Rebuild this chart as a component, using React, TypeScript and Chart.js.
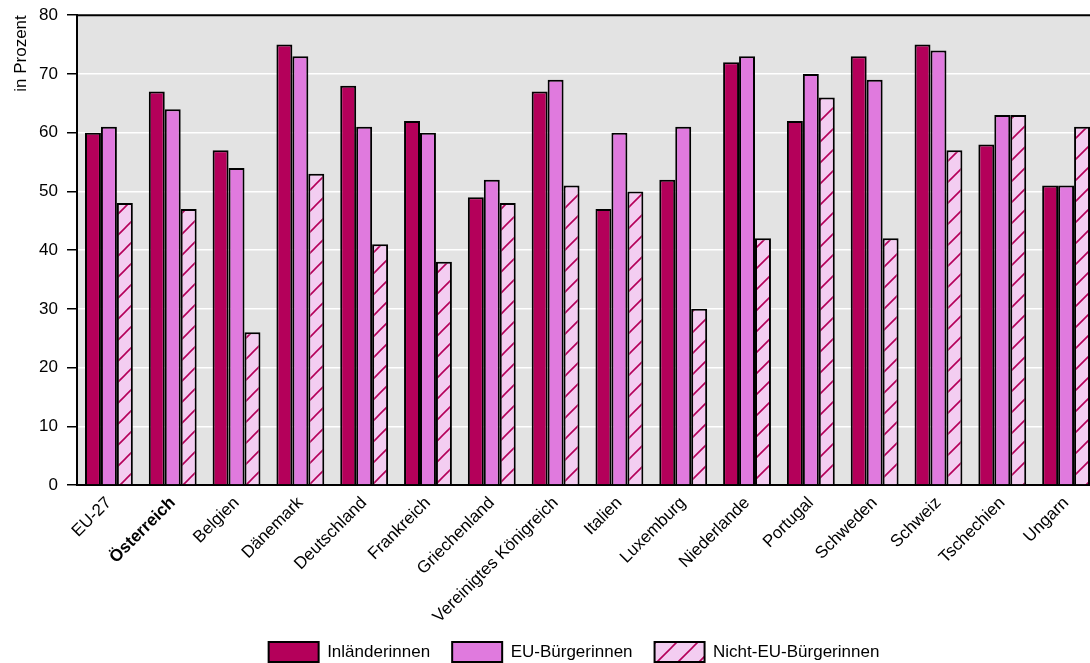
import React, { useEffect, useRef } from "react";
import { Chart, registerables } from "chart.js";

Chart.register(...registerables);

const categories = [
  "EU-27", "Österreich", "Belgien", "Dänemark", "Deutschland", "Frankreich",
  "Griechenland", "Vereinigtes Königreich", "Italien", "Luxemburg", "Niederlande",
  "Portugal", "Schweden", "Schweiz", "Tschechien", "Ungarn",
];
const inlaenderinnen = [60, 67, 57, 75, 68, 62, 49, 67, 47, 52, 72, 62, 73, 75, 58, 51];
const euBuergerinnen = [61, 64, 54, 73, 61, 60, 52, 69, 60, 61, 73, 70, 69, 74, 63, 51];
const nichtEuBuergerinnen = [48, 47, 26, 53, 41, 38, 48, 51, 50, 30, 42, 66, 42, 57, 63, 61];
const seriesNames = ["Inländerinnen", "EU-Bürgerinnen", "Nicht-EU-Bürgerinnen"];
const yTicks = [0, 10, 20, 30, 40, 50, 60, 70, 80];

const DARK = "#b4005a";
const VIOLET = "#e07ade";
const PINK = "#f3cdf1";
const BG = "#e3e3e3";
const FONT = "'Liberation Sans', Arial, sans-serif";

function makeHatch(): CanvasPattern | string {
  const c = document.createElement("canvas");
  const s = 21;
  c.width = s;
  c.height = s;
  const g = c.getContext("2d");
  if (!g) return PINK;
  g.fillStyle = PINK;
  g.fillRect(0, 0, s, s);
  g.strokeStyle = DARK;
  g.lineWidth = 1.6;
  g.beginPath();
  g.moveTo(-2, s + 2);
  g.lineTo(s + 2, -2);
  g.moveTo(-2, 2);
  g.lineTo(2, -2);
  g.moveTo(s - 2, s + 2);
  g.lineTo(s + 2, s - 2);
  g.stroke();
  const p = g.createPattern(c, "repeat");
  return p || PINK;
}

const bgPlugin = {
  id: "bgPlugin",
  afterLayout(chart: any) {
    const lg = chart.legend;
    if (lg) {
      lg.left += 25;
      lg.right += 25;
    }
  },
  beforeDraw(chart: any) {
    const { ctx, chartArea } = chart;
    ctx.save();
    ctx.fillStyle = BG;
    ctx.fillRect(chartArea.left, chartArea.top, chartArea.right - chartArea.left, chartArea.bottom - chartArea.top);
    ctx.restore();
  },
  afterDatasetsDraw(chart: any) {
    const { ctx, chartArea } = chart;
    ctx.save();
    ctx.strokeStyle = "#000";
    ctx.lineWidth = 2;
    ctx.beginPath();
    ctx.moveTo(chartArea.left, chartArea.top);
    ctx.lineTo(chartArea.right, chartArea.top);
    ctx.stroke();
    ctx.restore();
  },
};

export default function App() {
  const ref = useRef<HTMLCanvasElement | null>(null);
  useEffect(() => {
    if (!ref.current) return;
    const hatch = makeHatch();
    const chart = new Chart(ref.current, {
      type: "bar",
      data: {
        labels: categories,
        datasets: [
          { label: seriesNames[0], data: inlaenderinnen, backgroundColor: DARK, borderColor: "#000", borderWidth: 2 },
          { label: seriesNames[1], data: euBuergerinnen, backgroundColor: VIOLET, borderColor: "#000", borderWidth: 2 },
          { label: seriesNames[2], data: nichtEuBuergerinnen, backgroundColor: hatch as any, borderColor: "#000", borderWidth: 2 },
        ],
      },
      options: {
        animation: false,
        responsive: false,
        maintainAspectRatio: false,
        datasets: { bar: { categoryPercentage: 0.75, barPercentage: 1 } },
        layout: { padding: { top: 3, right: 2, left: 0, bottom: -9 } },
        plugins: {
          tooltip: { enabled: false },
          legend: {
            position: "bottom",
            labels: {
              boxWidth: 50,
              boxHeight: 20,
              padding: 22,
              color: "#000",
              font: { family: FONT, size: 17 },
            },
          },
        },
        scales: {
          x: {
            grid: { display: false, drawTicks: false },
            border: { display: true, color: "#000", width: 2 },
            afterFit: (scale: any) => {
              scale.height = 135;
            },
            ticks: {
              minRotation: 45,
              maxRotation: 45,
              autoSkip: false,
              padding: 8,
              color: "#000",
              font: (ctx: any) => ({ family: FONT, size: 17, weight: ctx.index === 1 ? "bold" : "normal" }),
            },
          },
          y: {
            min: 0,
            max: 80,
            afterBuildTicks: (scale: any) => {
              scale.ticks = yTicks.map((v) => ({ value: v }));
            },
            afterFit: (scale: any) => {
              scale.width = 77;
            },
            grid: { color: "#fff", lineWidth: 1.5, tickColor: "#000", tickLength: 10, drawTicks: true },
            border: { display: true, color: "#000", width: 2 },
            ticks: { color: "#000", padding: 9, font: { family: FONT, size: 17 } },
            title: {
              display: true,
              text: "in Prozent",
              align: "end",
              color: "#000",
              padding: { top: 11, bottom: 0 },
              font: { family: FONT, size: 17 },
            },
          },
        },
      },
      plugins: [bgPlugin],
    });
    return () => chart.destroy();
  }, []);
  return (
    <div style={{ position: "fixed", left: 0, top: 0, width: 1090, height: 663, overflow: "hidden", background: "#fff" }}>
      <canvas
        ref={ref}
        width={1100}
        height={667}
        style={{ width: 1100, height: 667, display: "block", position: "absolute", left: 0, top: -4 }}
      />
    </div>
  );
}
